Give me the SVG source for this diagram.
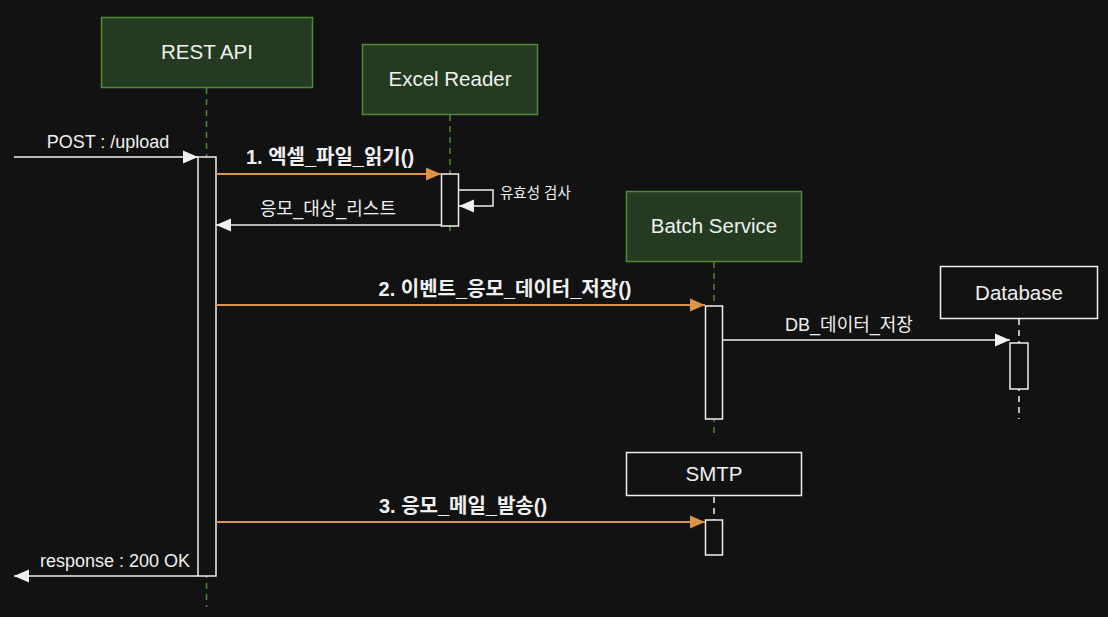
<svg xmlns="http://www.w3.org/2000/svg" width="1108" height="617" viewBox="0 0 1108 617">
<defs>
<style>
.bg{fill:#121212}
.actor{fill:#243b22;stroke:#4f8b34;stroke-width:1.5}
.plain{fill:#121212;stroke:#f0f0f0;stroke-width:1.5}
.lifeG{stroke:#4f8b34;stroke-width:1.5;stroke-dasharray:6 5;fill:none}
.lifeW{stroke:#f0f0f0;stroke-width:1.5;stroke-dasharray:6 5;fill:none}
.act{fill:#121212;stroke:#f0f0f0;stroke-width:1.5}
.t{font-family:"Liberation Sans","Noto Sans CJK KR",sans-serif;fill:#f0f0f0}
.title{font-size:20.5px;text-anchor:middle}
.lbl{font-size:18px;text-anchor:middle}
.bold{font-weight:bold;font-size:20px}
.small{font-size:14.5px}
.msgW{stroke:#f0f0f0;stroke-width:1.5;fill:none;marker-end:url(#aw)}
.msgO{stroke:#da9347;stroke-width:1.8;fill:none;marker-end:url(#ao)}
</style>
<marker id="aw" markerUnits="userSpaceOnUse" markerWidth="17" markerHeight="15" refX="16" refY="7.5" orient="auto"><path d="M1,1 L16,7.5 L1,14 z" fill="#f0f0f0"/></marker>
<marker id="ao" markerUnits="userSpaceOnUse" markerWidth="17" markerHeight="15" refX="16" refY="7.5" orient="auto"><path d="M1,1 L16,7.5 L1,14 z" fill="#da9347"/></marker>
</defs>
<rect class="bg" x="0" y="0" width="1108" height="617"/>

<g id="lifelines">
<line class="lifeG" x1="206.5" y1="88" x2="206.5" y2="607"/>
<line class="lifeG" x1="450" y1="115" x2="450" y2="236"/>
<line class="lifeG" x1="714" y1="262" x2="714" y2="435"/>
<line class="lifeW" x1="1019" y1="319" x2="1019" y2="419"/>
<line class="lifeW" x1="714" y1="497" x2="714" y2="520"/>
</g>

<g id="rest-api">
<rect class="actor" x="101.5" y="17.5" width="211" height="70"/>
<text class="t title" x="207" y="59">REST API</text>
<rect class="act" x="198" y="157" width="18" height="419"/>
</g>

<g id="excel-reader">
<rect class="actor" x="362.5" y="44.5" width="175" height="70"/>
<text class="t title" x="450" y="86">Excel Reader</text>
<rect class="act" x="441.5" y="174" width="17" height="52"/>
</g>

<g id="batch-service">
<rect class="actor" x="626.5" y="191.5" width="175" height="70"/>
<text class="t title" x="714" y="233">Batch Service</text>
<rect class="act" x="705.5" y="306" width="17" height="113"/>
</g>

<g id="database">
<rect class="plain" x="940.5" y="266.5" width="157" height="52"/>
<text class="t title" x="1019" y="300">Database</text>
<rect class="act" x="1010" y="343" width="18" height="46"/>
</g>

<g id="smtp">
<rect class="plain" x="626.5" y="452.5" width="175" height="43"/>
<text class="t title" x="714" y="481">SMTP</text>
<rect class="act" x="705.5" y="520" width="17" height="35"/>
</g>

<g id="connectors">
<line class="msgW" x1="14" y1="157" x2="198" y2="157"/>
<text class="t lbl" x="108" y="148">POST : /upload</text>

<line class="msgO" x1="216" y1="174" x2="441" y2="174"/>
<text class="t lbl bold" x="330" y="164">1. 엑셀_파일_읽기()</text>

<polyline class="msgW" points="459,190 493,190 493,206 459,206"/>
<text class="t small" x="500" y="198">유효성 검사</text>

<line class="msgW" x1="441" y1="225" x2="216" y2="225"/>
<text class="t lbl" x="328" y="215">응모_대상_리스트</text>

<line class="msgO" x1="216" y1="305" x2="705" y2="305"/>
<text class="t lbl bold" x="505" y="296">2. 이벤트_응모_데이터_저장()</text>

<line class="msgW" x1="723" y1="340" x2="1010" y2="340"/>
<text class="t lbl" x="849" y="331">DB_데이터_저장</text>

<line class="msgO" x1="216" y1="522" x2="705" y2="522"/>
<text class="t lbl bold" x="463" y="513">3. 응모_메일_발송()</text>

<line class="msgW" x1="198" y1="576" x2="14" y2="576"/>
<text class="t lbl" x="115" y="567">response : 200 OK</text>
</g>
</svg>
